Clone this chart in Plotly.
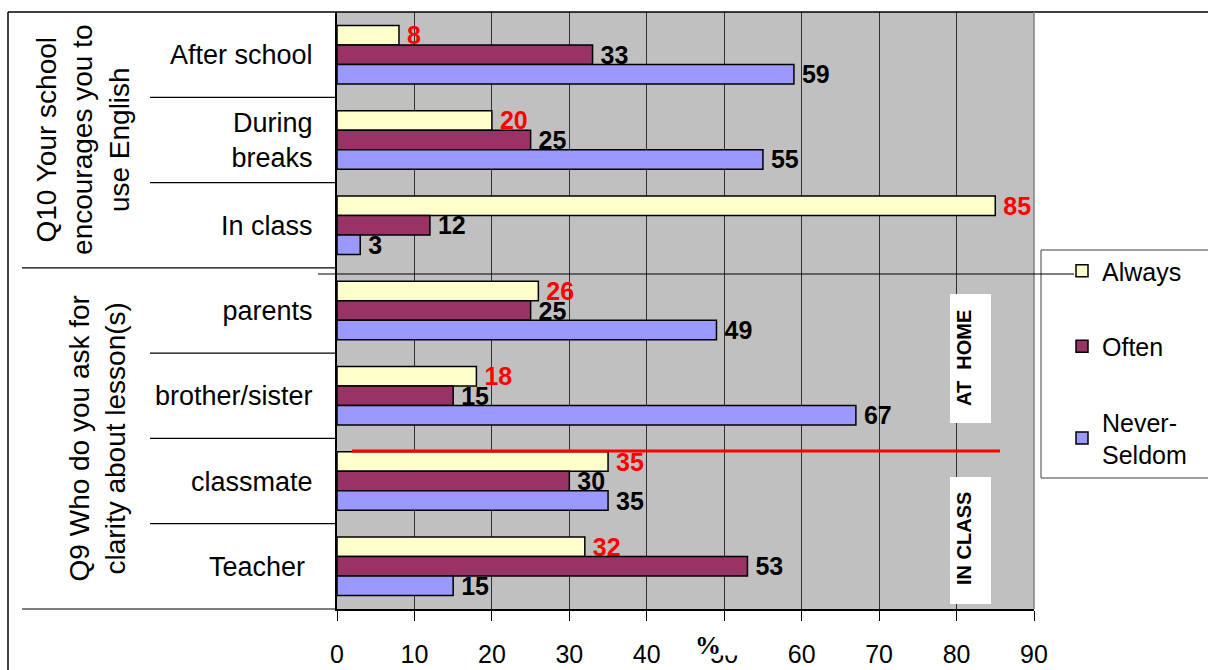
import plotly.graph_objects as go

# Survey answers (% of pupils) per situation
categories = ["After school", "During breaks", "In class",
              "parents", "brother/sister", "classmate", "Teacher"]
cat_labels = ["After school", "During<br>breaks", "In class",
              "parents", "brother/sister", "classmate", "Teacher\u00a0"]
always = [8, 20, 85, 26, 18, 35, 32]
often = [33, 25, 12, 25, 15, 30, 53]
never_seldom = [59, 55, 3, 49, 67, 35, 15]
series_names = ["Always", "Often", "Never-<br>Seldom"]
x_ticks = [0, 10, 20, 30, 40, 50, 60, 70, 80, 90]

# Question groups: (label, first category index, last category index)
groups = [
    ("Q10 Your school<br>encourages you to<br>use English", 0, 2),
    ("Q9 Who do you ask for<br>clarity about lesson(s)", 3, 6),
]

W, H = 1208, 670
L, R, T, B = 337, 1034, 12, 609          # plot area in page pixels
PW, PH = R - L, B - T


def px(x):
    return (x - L) / PW


def py(y):
    return (B - y) / PH


FONT = "Liberation Sans, Arial, sans-serif"
colors = ["#FFFFCC", "#993366", "#9999FF"]
label_colors = ["#FF0000", "#000000", "#000000"]

fig = go.Figure()
for i, (name, vals) in enumerate(zip(series_names, [always, often, never_seldom])):
    fig.add_trace(go.Bar(
        y=categories, x=vals, orientation="h", name=name,
        legendgroup=f"g{i}",
        marker=dict(color=colors[i], line=dict(color="#000000", width=1.5)),
        text=vals, texttemplate="\u2009%{x}", textposition="outside",
        textfont=dict(family=FONT, size=25, color=label_colors[i], weight=700),
        constraintext="none", cliponaxis=False,
    ))

shapes = []
# outer chart frame (top and left edges)
shapes.append(dict(type="line", xref="paper", yref="paper",
                   x0=px(8), x1=px(1220), y0=py(12), y1=py(12),
                   line=dict(color="#000000", width=1.5)))
shapes.append(dict(type="line", xref="paper", yref="paper",
                   x0=px(8), x1=px(8), y0=py(12), y1=py(680),
                   line=dict(color="#000000", width=1.5)))
# right edge of the plot area
shapes.append(dict(type="line", xref="paper", yref="paper",
                   x0=1, x1=1, y0=0, y1=1,
                   line=dict(color="#808080", width=1.5)))

# category separators and group separators on the label side
n = len(categories)
for k in range(n - 1):
    b = k + 0.5
    is_group_edge = any(b == g[2] + 0.5 for g in groups)
    shapes.append(dict(type="line", xref="paper", yref="y",
                       x0=px(22) if is_group_edge else px(150), x1=0,
                       y0=b, y1=b, line=dict(color="#000000", width=1.2)))
shapes.append(dict(type="line", xref="paper", yref="paper",
                   x0=px(22), x1=0, y0=0, y1=0,
                   line=dict(color="#000000", width=1.2)))

# legend frame
shapes.append(dict(type="rect", xref="paper", yref="paper",
                   x0=px(1041), x1=px(1230), y0=py(250), y1=py(478),
                   line=dict(color="#404040", width=1), fillcolor="#FFFFFF",
                   layer="below"))
# leader line running to the legend key
shapes.append(dict(type="line", xref="paper", yref="paper",
                   x0=px(318), x1=px(1074), y0=py(274), y1=py(274),
                   line=dict(color="#000000", width=1.2), layer="above"))
# red divider between home and class helpers
shapes.append(dict(type="line", xref="paper", yref="paper",
                   x0=px(352), x1=px(1000), y0=py(451), y1=py(451),
                   line=dict(color="#FF0000", width=3), layer="above"))
# white boxes behind the vertical notes
for y0, y1 in [(294, 423), (477, 604)]:
    shapes.append(dict(type="rect", xref="paper", yref="paper",
                       x0=px(950), x1=px(991), y0=py(y0), y1=py(y1),
                       line=dict(width=0), fillcolor="#FFFFFF", layer="above"))

annotations = []
for text, a, b in groups:
    annotations.append(dict(
        text=text, xref="paper", yref="y", x=px(83 if a == 0 else 97), y=(a + b) / 2,
        xanchor="center", yanchor="middle", textangle=-90, showarrow=False,
        font=dict(family=FONT, size=28, color="#000000"), align="center"))

for text, yc in [("AT  HOME", 358), ("IN CLASS", 539)]:
    annotations.append(dict(
        text=text, xref="paper", yref="paper", x=px(964), y=py(yc),
        xanchor="center", yanchor="middle", textangle=-90, showarrow=False,
        font=dict(family=FONT, size=20, color="#000000", weight=700)))

# axis title sitting over the middle tick label
annotations.append(dict(
    text="%", xref="paper", yref="paper", x=px(694), y=py(630),
    xanchor="left", yanchor="top", showarrow=False, width=52, height=24,
    align="left", valign="top", bgcolor="#FFFFFF", borderpad=0,
    font=dict(family="Liberation Serif, Times New Roman, serif", size=26,
              color="#000000", weight=700)))

fig.update_layout(
    width=W, height=H,
    margin=dict(l=L, r=W - R, t=T, b=H - B, pad=0, autoexpand=False),
    paper_bgcolor="#FFFFFF", plot_bgcolor="#C0C0C0",
    barmode="group", bargap=0.314, bargroupgap=0,
    showlegend=True,
    legend=dict(x=px(1062), y=py(248), xanchor="left", yanchor="top",
                bgcolor="rgba(0,0,0,0)", borderwidth=0,
                tracegroupgap=40, traceorder="grouped",
                font=dict(family=FONT, size=25, color="#000000")),
    shapes=shapes, annotations=annotations,
    font=dict(family=FONT, color="#000000"),
)
fig.update_xaxes(
    range=[0, 90], tickvals=x_ticks, showgrid=True, gridcolor="#303030", gridwidth=1,
    showline=True, linecolor="#000000", linewidth=1.5, zeroline=False,
    ticks="outside", ticklen=10, tickcolor="#000000", tickwidth=1,
    ticklabelstandoff=12, automargin=False,
    tickfont=dict(family=FONT, size=25, color="#000000"), fixedrange=True,
)
fig.update_yaxes(
    type="category", categoryorder="array", categoryarray=categories,
    range=[n - 0.5, -0.5], tickvals=categories, ticktext=cat_labels,
    showgrid=False, showline=True, linecolor="#000000", linewidth=2,
    ticks="", ticklabelstandoff=17, automargin=False,
    tickfont=dict(family=FONT, size=27, color="#000000"), fixedrange=True,
)

fig.write_html("out.html")
